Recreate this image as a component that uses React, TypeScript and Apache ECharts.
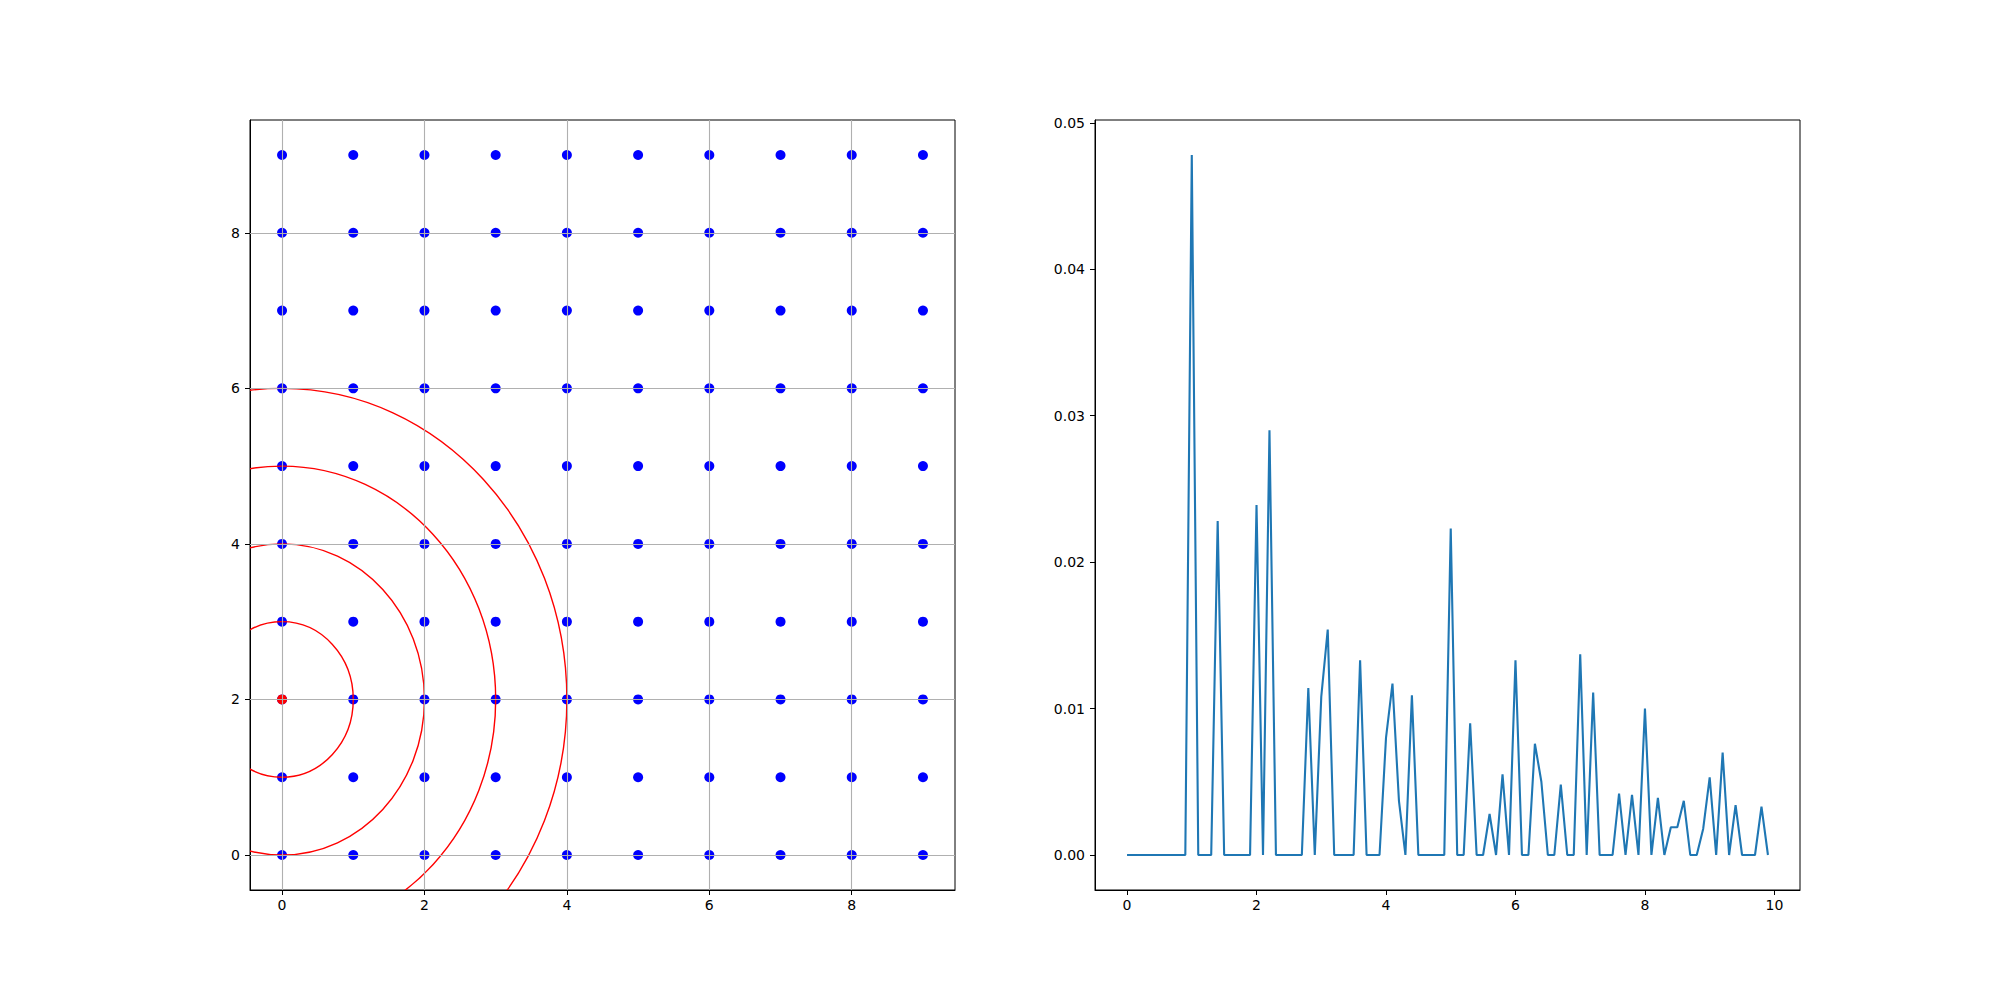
import React, { useEffect, useRef } from "react";
import * as echarts from "echarts";

// Left panel: grid of points, a highlighted point and circles around it
const gridXs = [0, 1, 2, 3, 4, 5, 6, 7, 8, 9];
const gridYs = [0, 1, 2, 3, 4, 5, 6, 7, 8, 9];
const centerPoint = [0, 2];
const circleRadii = [1, 2, 3, 4];
const leftTicks = [0, 2, 4, 6, 8];

// Right panel: line series
const lineXs = [
  0.0, 0.1, 0.2, 0.3, 0.4, 0.5, 0.6, 0.7, 0.8, 0.9,
  1.0, 1.1, 1.2, 1.3, 1.4, 1.5, 1.6, 1.7, 1.8, 1.9,
  2.0, 2.1, 2.2, 2.3, 2.4, 2.5, 2.6, 2.7, 2.8, 2.9,
  3.0, 3.1, 3.2, 3.3, 3.4, 3.5, 3.6, 3.7, 3.8, 3.9,
  4.0, 4.1, 4.2, 4.3, 4.4, 4.5, 4.6, 4.7, 4.8, 4.9,
  5.0, 5.1, 5.2, 5.3, 5.4, 5.5, 5.6, 5.7, 5.8, 5.9,
  6.0, 6.1, 6.2, 6.3, 6.4, 6.5, 6.6, 6.7, 6.8, 6.9,
  7.0, 7.1, 7.2, 7.3, 7.4, 7.5, 7.6, 7.7, 7.8, 7.9,
  8.0, 8.1, 8.2, 8.3, 8.4, 8.5, 8.6, 8.7, 8.8, 8.9,
  9.0, 9.1, 9.2, 9.3, 9.4, 9.5, 9.6, 9.7, 9.8, 9.9,
];
const lineYs = [
  0, 0, 0, 0, 0, 0, 0, 0, 0, 0,
  0.0478, 0, 0, 0, 0.0228, 0, 0, 0, 0, 0,
  0.0239, 0, 0.029, 0, 0, 0, 0, 0, 0.0114, 0,
  0.0108, 0.0154, 0, 0, 0, 0, 0.0133, 0, 0, 0,
  0.008, 0.0117, 0.0037, 0, 0.0109, 0, 0, 0, 0, 0,
  0.0223, 0, 0, 0.009, 0, 0, 0.0028, 0, 0.0055, 0,
  0.0133, 0, 0, 0.0076, 0.005, 0, 0, 0.0048, 0, 0,
  0.0137, 0, 0.0111, 0, 0, 0, 0.0042, 0, 0.0041, 0,
  0.01, 0, 0.0039, 0, 0.0019, 0.0019, 0.0037, 0, 0, 0.0018,
  0.0053, 0, 0.007, 0, 0.0034, 0, 0, 0, 0.0033, 0,
];
const rightXTicks = [0, 2, 4, 6, 8, 10];
const rightYTicks = [0, 0.01, 0.02, 0.03, 0.04, 0.05];

const FONT = "DejaVu Sans";

export default function App() {
  const ref = useRef<HTMLDivElement>(null);

  useEffect(() => {
    if (!ref.current) return;
    const chart = echarts.init(ref.current, null, { renderer: "svg" });

    const points: number[][] = [];
    gridYs.forEach((y) => gridXs.forEach((x) => points.push([x, y])));
    const circles = circleRadii.map((r) => [centerPoint[0], centerPoint[1], r]);

    const ymax = Math.max(...lineYs);
    const ymin = Math.min(...lineYs);
    const ypad = (ymax - ymin) * 0.05;
    const xmaxR = Math.max(...lineXs);
    const xminR = Math.min(...lineXs);
    const xpadR = (xmaxR - xminR) * 0.05;

    const labelStyle = {
      fontFamily: FONT,
      fontSize: 14,
      color: "#000",
    };
    const axisCommon = (ticks: number[], fmt: (v: number) => string, margin: number) => ({
      axisLine: { show: true, onZero: false, lineStyle: { color: "#000", width: 1 } },
      axisTick: {
        show: true,
        inside: false,
        length: 5,
        customValues: ticks,
        lineStyle: { color: "#000", width: 1 },
      },
      axisLabel: {
        show: true,
        margin,
        customValues: ticks,
        formatter: (v: number) => fmt(v),
        ...labelStyle,
      },
      splitLine: { show: false },
    });

    chart.setOption({
      animation: false,
      backgroundColor: "#fff",
      grid: [
        {
          left: 250,
          top: 120,
          width: 705,
          height: 770,
          show: true,
          borderColor: "#000",
          borderWidth: 1,
          backgroundColor: "transparent",
        },
        {
          left: 1095,
          top: 120,
          width: 705,
          height: 770,
          show: true,
          borderColor: "#000",
          borderWidth: 1,
          backgroundColor: "transparent",
        },
      ],
      xAxis: [
        {
          type: "value",
          gridIndex: 0,
          min: -0.45,
          max: 9.45,
          ...axisCommon(leftTicks, (v) => String(Math.round(v)), 8),
        },
        {
          type: "value",
          gridIndex: 1,
          min: xminR - xpadR,
          max: xmaxR + xpadR,
          ...axisCommon(rightXTicks, (v) => String(Math.round(v)), 8),
        },
      ],
      yAxis: [
        {
          type: "value",
          gridIndex: 0,
          min: -0.45,
          max: 9.45,
          ...axisCommon(leftTicks, (v) => String(Math.round(v)), 10),
        },
        {
          type: "value",
          gridIndex: 1,
          min: ymin - ypad,
          max: ymax + ypad,
          ...axisCommon(rightYTicks, (v) => v.toFixed(2), 10),
        },
      ],
      series: [
        {
          type: "scatter",
          xAxisIndex: 0,
          yAxisIndex: 0,
          data: points,
          symbol: "circle",
          symbolSize: 10,
          itemStyle: { color: "#0000ff", opacity: 1 },
          z: 2,
          silent: true,
          markLine: {
            silent: true,
            symbol: "none",
            z: 5,
            label: { show: false },
            lineStyle: { color: "#b0b0b0", width: 1.1, type: "solid" },
            emphasis: { disabled: true },
            data: [
              ...leftTicks.map((v) => ({ xAxis: v })),
              ...leftTicks.map((v) => ({ yAxis: v })),
            ],
          },
        },
        {
          type: "scatter",
          xAxisIndex: 0,
          yAxisIndex: 0,
          data: [centerPoint],
          symbol: "circle",
          symbolSize: 10,
          itemStyle: { color: "#ff0000", opacity: 1 },
          z: 3,
          silent: true,
        },
        {
          type: "custom",
          xAxisIndex: 0,
          yAxisIndex: 0,
          data: circles,
          encode: { x: 0, y: 1 },
          clip: true,
          z: 4,
          silent: true,
          renderItem: (params: any, api: any) => {
            const c = api.coord([api.value(0), api.value(1)]);
            const s = api.size([api.value(2), api.value(2)]);
            const cs = params.coordSys;
            return {
              type: "ellipse",
              shape: { cx: c[0], cy: c[1], rx: s[0], ry: s[1] },
              style: { fill: "none", stroke: "#ff0000", lineWidth: 1.4 },
              clipPath: {
                type: "rect",
                shape: { x: cs.x, y: cs.y, width: cs.width, height: cs.height },
              },
            };
          },
        },
        {
          type: "line",
          xAxisIndex: 1,
          yAxisIndex: 1,
          data: lineXs.map((x, i) => [x, lineYs[i]]),
          showSymbol: false,
          symbol: "none",
          lineStyle: { color: "#1f77b4", width: 2.1 },
          itemStyle: { color: "#1f77b4" },
          silent: true,
        },
      ],
    });

    return () => chart.dispose();
  }, []);

  return (
    <div
      ref={ref}
      style={{ position: "fixed", left: 0, top: 0, width: 2000, height: 1000, background: "#fff" }}
    />
  );
}
